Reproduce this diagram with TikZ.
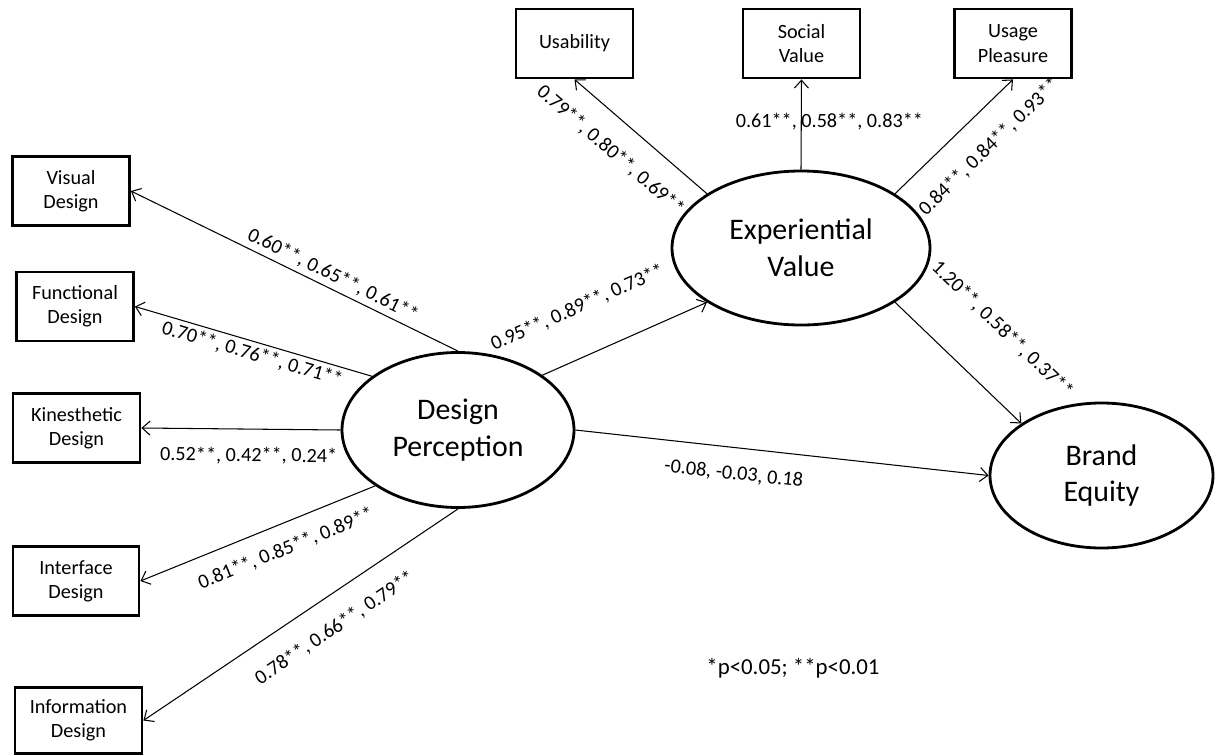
\documentclass[tikz,border=0pt]{standalone}
\usepackage{fontspec}
\setmainfont{Carlito}
\usetikzlibrary{shapes.geometric,arrows.meta}

\begin{document}
\begin{tikzpicture}[
    box/.style={draw, line width=1.6pt, minimum width=2.34cm, minimum height=1.38cm,
        align=center, font=\fontsize{11.5}{13.8}\selectfont},
    latent/.style={draw, ellipse, line width=1.6pt, inner sep=0pt, align=center,
        font=\fontsize{17}{21}\selectfont},
    link/.style={->, line width=0.6pt},
    coef/.style={font=\fontsize{11.5}{13.8}\selectfont, inner sep=2pt, sloped},
    >={Straight Barb[length=4.5pt,width=8pt]}
]
    \useasboundingbox (0,0) rectangle (24.38,-15.12);

    % Latent variables
    \node[latent, minimum width=4.64cm, minimum height=3.10cm] (dp) at (9.16,-8.60) {Design\\Perception};
    \node[latent, minimum width=5.16cm, minimum height=3.08cm] (ev) at (16.02,-4.96) {Experiential\\Value};
    \node[latent, minimum width=4.46cm, minimum height=2.90cm] (be) at (22.03,-9.51) {Brand\\Equity};

    % Design indicators
    \node[box] (vis) at (1.42,-3.82) {Visual\\Design};
    \node[box] (func) at (1.50,-6.13) {Functional\\Design};
    \node[box, minimum width=2.54cm] (kin) at (1.53,-8.56) {Kinesthetic\\Design};
    \node[box, minimum width=2.52cm] (intf) at (1.52,-11.62) {Interface\\Design};
    \node[box, minimum width=2.54cm, minimum height=1.32cm] (info) at (1.57,-14.41) {Information\\Design};

    % Experiential indicators
    \node[box] (usab) at (11.49,-0.87) {Usability};
    \node[box] (soc) at (16.03,-0.87) {Social\\Value};
    \node[box] (pleas) at (20.26,-0.87) {Usage\\Pleasure};

    % Loadings
    \draw[link] (dp.north) -- node[coef, above=0.5pt, pos=0.40] {0.60**, 0.65**, 0.61**} (vis.east);
    \draw[link] (dp.148) -- node[coef, below=0pt, pos=0.49] {0.70**, 0.76**, 0.71**} (func.east);
    \draw[link] (dp.west) -- node[coef, below=8pt, pos=0.46] {0.52**, 0.42**, 0.24*} (kin.east);
    \draw[link] (dp.214) -- node[coef, below=7pt, pos=0.42] {0.81**, 0.85**, 0.89**} (intf.east);
    \draw[link] (dp.south) -- node[coef, below=10pt, pos=0.445] {0.78**, 0.66**, 0.79**} (info.east);

    \draw[link] (ev.150) -- node[coef, below=10pt, pos=0.58] {0.79**, 0.80**, 0.69**} (usab.south);
    \draw[link] (ev.north) -- node[font=\fontsize{11.5}{13.8}\selectfont, inner sep=0pt, pos=0.53, xshift=16pt] {0.61**, 0.58**, 0.83**} (soc.south);
    \draw[link] (ev.30) -- node[coef, below=11pt, pos=0.61] {0.84**, 0.84**, 0.93**} (pleas.south);

    % Structural paths
    \draw[link] (dp.33) -- node[coef, above=20pt, pos=0.33] {0.95**, 0.89**, 0.73**} (ev.210);
    \draw[link] (dp.east) -- node[coef, below=8pt, pos=0.39] {-0.08, -0.03, 0.18} (be.west);
    \draw[link] (ev.-30) -- node[coef, above=24pt, pos=0.55] {1.20**, 0.58**, 0.37**} (be.147);

    \node[font=\fontsize{13}{15.6}\selectfont] (note) at (15.86,-13.36) {*p<0.05; **p<0.01};
\end{tikzpicture}
\end{document}
